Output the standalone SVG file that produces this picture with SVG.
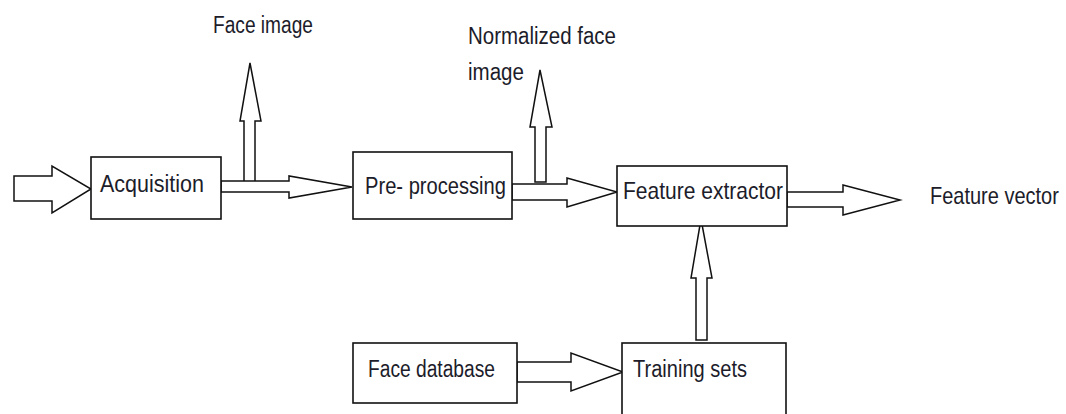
<svg xmlns="http://www.w3.org/2000/svg" width="1066" height="414" viewBox="0 0 1066 414">
<style>
.box{fill:#fff;stroke:#111;stroke-width:1.6}
.arr{fill:#fff;stroke:#111;stroke-width:1.5;stroke-linejoin:miter}
.t{font-family:"Liberation Sans",Arial,sans-serif;font-size:23px;fill:#1c1c2a}
.big{font-size:24px}
</style>
<rect width="1066" height="414" fill="#fff"/>
<g id="connectors">
<polygon class="arr" points="14,176 52,176 52,166 91,189 52,213 52,201 14,201"/>
<polygon class="arr" points="244,182 244,121 240,121 250,63 261,121 255,121 255,182"/>
<polygon class="arr" points="221,181 289,181 289,176 352,187 289,198 289,192 221,192"/>
<polygon class="arr" points="535,182 535,127 530,127 540,70 552,127 546,127 546,182"/>
<polygon class="arr" points="512,184 567,184 567,178 617,192 567,207 567,200 512,200"/>
<polygon class="arr" points="787,192 843,192 843,185 900,200 843,215 843,207 787,207"/>
<polygon class="arr" points="696,340 696,278 691,278 701,219 712,278 707,278 707,340"/>
<polygon class="arr" points="517,362 571,362 571,353 623,372 571,391 571,382 517,382"/>
</g>
<g id="acquisition">
<rect class="box" x="91" y="157" width="130" height="62"/>
<text class="t" x="100" y="192" textLength="104" lengthAdjust="spacingAndGlyphs">Acquisition</text>
</g>
<g id="preprocessing">
<rect class="box" x="353" y="152" width="159" height="67"/>
<text class="t" x="365" y="194" textLength="141" lengthAdjust="spacingAndGlyphs">Pre- processing</text>
</g>
<g id="feature-extractor">
<rect class="box" x="617" y="166" width="170" height="60"/>
<text class="t big" x="623" y="199" textLength="160" lengthAdjust="spacingAndGlyphs">Feature extractor</text>
</g>
<g id="face-database">
<rect class="box" x="353" y="343" width="164" height="60"/>
<text class="t" x="368" y="377" textLength="127" lengthAdjust="spacingAndGlyphs">Face database</text>
</g>
<g id="training-sets">
<rect class="box" x="622" y="343" width="164" height="90"/>
<text class="t" x="633" y="377" textLength="114" lengthAdjust="spacingAndGlyphs">Training sets</text>
</g>
<g id="labels">
<text class="t" x="213" y="33" textLength="100" lengthAdjust="spacingAndGlyphs">Face image</text>
<text class="t" x="468" y="44" textLength="148" lengthAdjust="spacingAndGlyphs">Normalized face</text>
<text class="t" x="468" y="80" textLength="56" lengthAdjust="spacingAndGlyphs">image</text>
<text class="t" transform="translate(930,204) scale(1,1.2)" x="0" y="0" style="font-size:20px">Feature vector</text>
</g>
</svg>
